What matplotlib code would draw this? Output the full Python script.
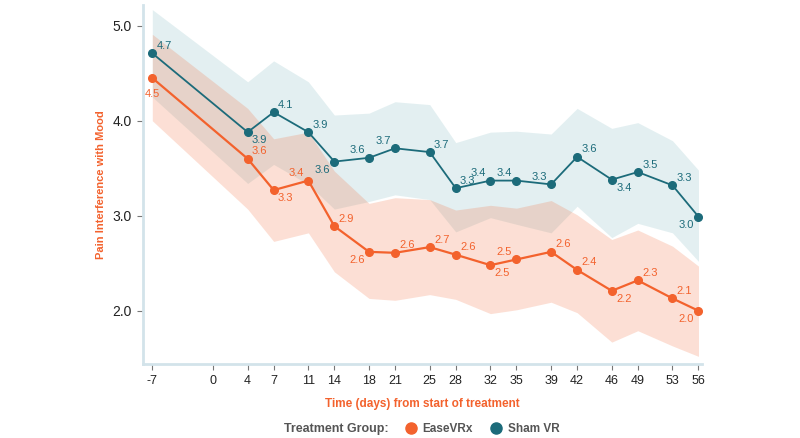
import matplotlib
matplotlib.use("Agg")
import matplotlib.pyplot as plt
from matplotlib.lines import Line2D

plt.rcParams['font.family'] = ['Liberation Sans', 'DejaVu Sans']

# ---------------- data ----------------
days = [-7, 4, 7, 11, 14, 18, 21, 25, 28, 32, 35, 39, 42, 46, 49, 53, 56]
x_ticks = [-7, 0, 4, 7, 11, 14, 18, 21, 25, 28, 32, 35, 39, 42, 46, 49, 53, 56]
y_ticks = [2.0, 3.0, 4.0, 5.0]

sham_mean = [4.71, 3.88, 4.09, 3.88, 3.57, 3.61, 3.71, 3.67, 3.29, 3.37, 3.37, 3.33, 3.62, 3.38, 3.46, 3.32, 2.99]
sham_upper = [5.17, 4.41, 4.63, 4.41, 4.06, 4.08, 4.20, 4.17, 3.77, 3.88, 3.89, 3.86, 4.13, 3.92, 3.98, 3.79, 3.48]
sham_lower = [4.25, 3.34, 3.54, 3.33, 3.07, 3.15, 3.22, 3.17, 2.83, 2.98, 2.91, 2.82, 3.10, 2.77, 2.92, 2.82, 2.52]

ease_mean = [4.45, 3.60, 3.27, 3.37, 2.89, 2.62, 2.61, 2.67, 2.59, 2.48, 2.54, 2.62, 2.43, 2.21, 2.32, 2.13, 2.00]
ease_upper = [4.91, 4.13, 3.81, 3.88, 3.47, 3.13, 3.19, 3.17, 3.06, 3.11, 3.08, 3.16, 3.01, 2.75, 2.85, 2.68, 2.47]
ease_lower = [4.00, 3.07, 2.73, 2.82, 2.41, 2.13, 2.11, 2.17, 2.12, 1.97, 2.01, 2.09, 1.98, 1.67, 1.79, 1.63, 1.52]

# label placement codes (ur=upper right, lr=lower right, ul=upper left, ll=lower left, b=below)
sham_label_pos = ['ur', 'lr', 'ur', 'ur', 'll', 'ul', 'ul', 'ur', 'ur', 'ul', 'ul', 'ul', 'ur', 'lr', 'ur', 'ur', 'll']
ease_label_pos = ['b', 'ur', 'lr', 'ul', 'ur', 'll', 'ur', 'ur', 'ur', 'lr', 'ul', 'ur', 'ur', 'lr', 'ur', 'ur', 'll']

series_names = ['EaseVRx', 'Sham VR']

# ---------------- style ----------------
ORANGE = '#F3622D'
TEAL = '#1C6B7A'
SPINE = '#D3E3EA'

offsets = {'ur': (12, 7.5), 'lr': (12, -8), 'ul': (-12, 7.5), 'll': (-12, -8), 'b': (0, -16)}

fig = plt.figure(figsize=(8, 4.38), dpi=100)
ax = fig.add_axes([0.179, 0.169, 0.699, 0.820])

ax.fill_between(days, sham_lower, sham_upper, color='#2A8A96', alpha=0.13, linewidth=0, zorder=1)
ax.fill_between(days, ease_lower, ease_upper, color=ORANGE, alpha=0.2, linewidth=0, zorder=2)

ax.plot(days, sham_mean, color=TEAL, lw=1.3, marker='o', ms=5.5, zorder=4)
ax.plot(days, ease_mean, color=ORANGE, lw=1.6, marker='o', ms=5.5, zorder=5)

for xs, ys, pos, col in [(days, sham_mean, sham_label_pos, TEAL),
                         (days, ease_mean, ease_label_pos, ORANGE)]:
    for x, y, p in zip(xs, ys, pos):
        ax.annotate(f"{y:.1f}", (x, y), xytext=offsets[p], textcoords='offset pixels',
                    ha='center', va='center', fontsize=8, color=col, zorder=6)

ax.set_xlim(-8.05, 56.45)
ax.set_ylim(1.44, 5.22)
ax.set_xticks(x_ticks)
ax.set_xticklabels([str(t) for t in x_ticks])
ax.set_yticks(y_ticks)
ax.set_yticklabels([f"{t:.1f}" for t in y_ticks])

for s in ['top', 'right']:
    ax.spines[s].set_visible(False)
for s in ['left', 'bottom']:
    ax.spines[s].set_color(SPINE)
    ax.spines[s].set_linewidth(2)

ax.tick_params(axis='both', colors='#777777', length=4, width=0.8, labelcolor='#222222')
ax.tick_params(axis='y', labelsize=10, pad=4)
ax.tick_params(axis='x', labelsize=9, pad=4)

ax.set_ylabel('Pain Interference with Mood', color=ORANGE, fontsize=8, fontweight='bold', labelpad=5)
ax.set_xlabel('Time (days) from start of treatment', color=ORANGE, fontsize=8.5, fontweight='bold', labelpad=8)

# legend
fig.text(0.355, 0.021, 'Treatment Group:', color='#555555', fontsize=9, fontweight='bold',
         ha='left', va='center')
handles = [Line2D([], [], ls='none', marker='o', ms=8, color=ORANGE),
           Line2D([], [], ls='none', marker='o', ms=8, color=TEAL)]
leg = fig.legend(handles, series_names, loc='center left', bbox_to_anchor=(0.506, 0.021),
                 ncol=2, frameon=False, handlelength=1.0, handletextpad=0.5,
                 columnspacing=1.5, prop={'size': 8.5, 'weight': 'bold'},
                 borderaxespad=0, borderpad=0)
for t in leg.get_texts():
    t.set_color('#555555')

fig.savefig('out.png', dpi=100)
